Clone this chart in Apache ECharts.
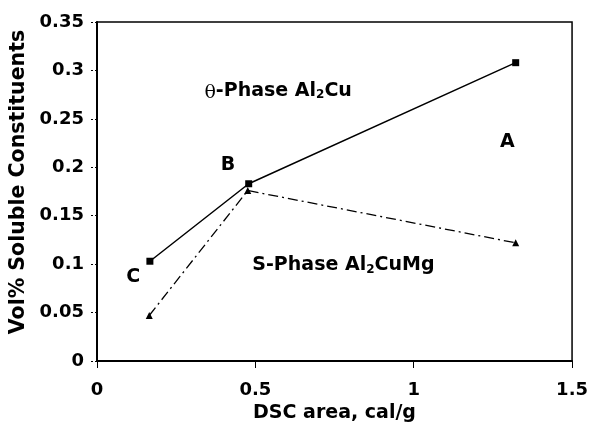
<!DOCTYPE html>
<html>
<head>
<meta charset="utf-8">
<script src="https://cdn.jsdelivr.net/npm/echarts@6/dist/echarts.min.js"></script>
<style>
  html, body { margin: 0; padding: 0; background: #fff; }
  #chart { width: 591px; height: 432px; }
</style>
</head>
<body>
<div id="chart"></div>
<script>
// theta phase (squares, solid) and S phase (triangles, dash-dot)
const thetaX = [0.167, 0.479, 1.322];
const thetaY = [0.103, 0.183, 0.308];
const sPhaseX = [0.165, 0.476, 1.322];
const sPhaseY = [0.047, 0.176, 0.122];

// text notes inside the plot, placed in data units
const noteText = ['{th|θ}-Phase Al{sub|2}Cu', 'B', 'A', 'C', 'S-Phase Al{sub|2}CuMg'];
const noteX = [0.572, 0.4135, 1.296, 0.1145, 0.778];
const noteY = [0.279, 0.2024, 0.2256, 0.0862, 0.099];

const xTicks = [0, 0.5, 1, 1.5];
const yTicks = [0, 0.05, 0.1, 0.15, 0.2, 0.25, 0.3, 0.35];

const font = 'DejaVu Sans';
const ink = '#000';

function pairs(xs, ys) {
  return xs.map((x, i) => [x, ys[i]]);
}

let myChart = echarts.init(document.getElementById('chart'));
myChart.setOption({
  animation: false,
  backgroundColor: '#fff',
  grid: {
    left: 97, right: 15, top: 22, bottom: 71,
    show: true, borderColor: '#000', borderWidth: 1.5
  },
  graphic: [{
    // y axis title, sits a bit above the plot centre like the original
    type: 'text', x: 19, y: 182, rotation: Math.PI / 2,
    style: {
      text: 'Vol% Soluble Constituents',
      fontFamily: font, fontWeight: 'bold', fontSize: 20.5, fill: ink,
      align: 'center', verticalAlign: 'middle'
    }
  }],
  xAxis: {
    type: 'value', min: 0, max: 1.5, interval: 0.5,
    name: 'DSC area, cal/g', nameLocation: 'middle', nameGap: 42,
    nameTextStyle: { fontFamily: font, fontWeight: 'bold', fontSize: 19, color: ink },
    axisLine: { show: true, lineStyle: { color: '#000', width: 2 } },
    axisTick: { show: true, inside: false, length: 7, lineStyle: { color: '#000', width: 1 } },
    axisLabel: {
      margin: 20, fontFamily: font, fontWeight: 'bold', fontSize: 18, color: ink,
      formatter: v => xTicks.includes(v) ? String(v) : ''
    },
    splitLine: { show: false }
  },
  yAxis: {
    type: 'value', min: 0, max: 0.35, interval: 0.05,
    axisLine: { show: true, lineStyle: { color: '#000', width: 2 } },
    axisTick: { show: true, inside: false, length: 8, lineStyle: { color: '#000', width: 1, type: [2, 2] } },
    axisLabel: {
      margin: 13, fontFamily: font, fontWeight: 'bold', fontSize: 18, color: ink,
      formatter: v => {
        const t = yTicks.find(k => Math.abs(k - v) < 1e-9);
        return t === undefined ? '' : String(t);
      }
    },
    splitLine: { show: false }
  },
  series: [
    {
      type: 'line',
      data: pairs(thetaX, thetaY),
      symbol: 'rect', symbolSize: 7,
      itemStyle: { color: '#000' },
      lineStyle: { color: '#000', width: 1.5 }
    },
    {
      type: 'line',
      data: pairs(sPhaseX, sPhaseY),
      symbol: 'triangle', symbolSize: 7,
      itemStyle: { color: '#000' },
      lineStyle: { color: '#000', width: 1.3, type: [10, 4, 2, 4] }
    },
    {
      type: 'scatter',
      symbolSize: 0,
      silent: true,
      itemStyle: { opacity: 1, color: '#000' },
      data: noteX.map((x, i) => ({ value: [x, noteY[i]], name: noteText[i] })),
      label: {
        show: true, position: 'inside', opacity: 1,
        formatter: p => p.name,
        fontFamily: font, fontWeight: 'bold', fontSize: 19, color: ink,
        rich: {
          th: { fontFamily: 'DejaVu Serif', fontWeight: 'normal', fontSize: 19, color: ink, padding: [4, 0, 0, 0] },
          sub: { fontFamily: font, fontWeight: 'bold', fontSize: 12, color: ink, padding: [9, 0, 0, 0] }
        }
      }
    }
  ]
});
</script>
</body>
</html>
